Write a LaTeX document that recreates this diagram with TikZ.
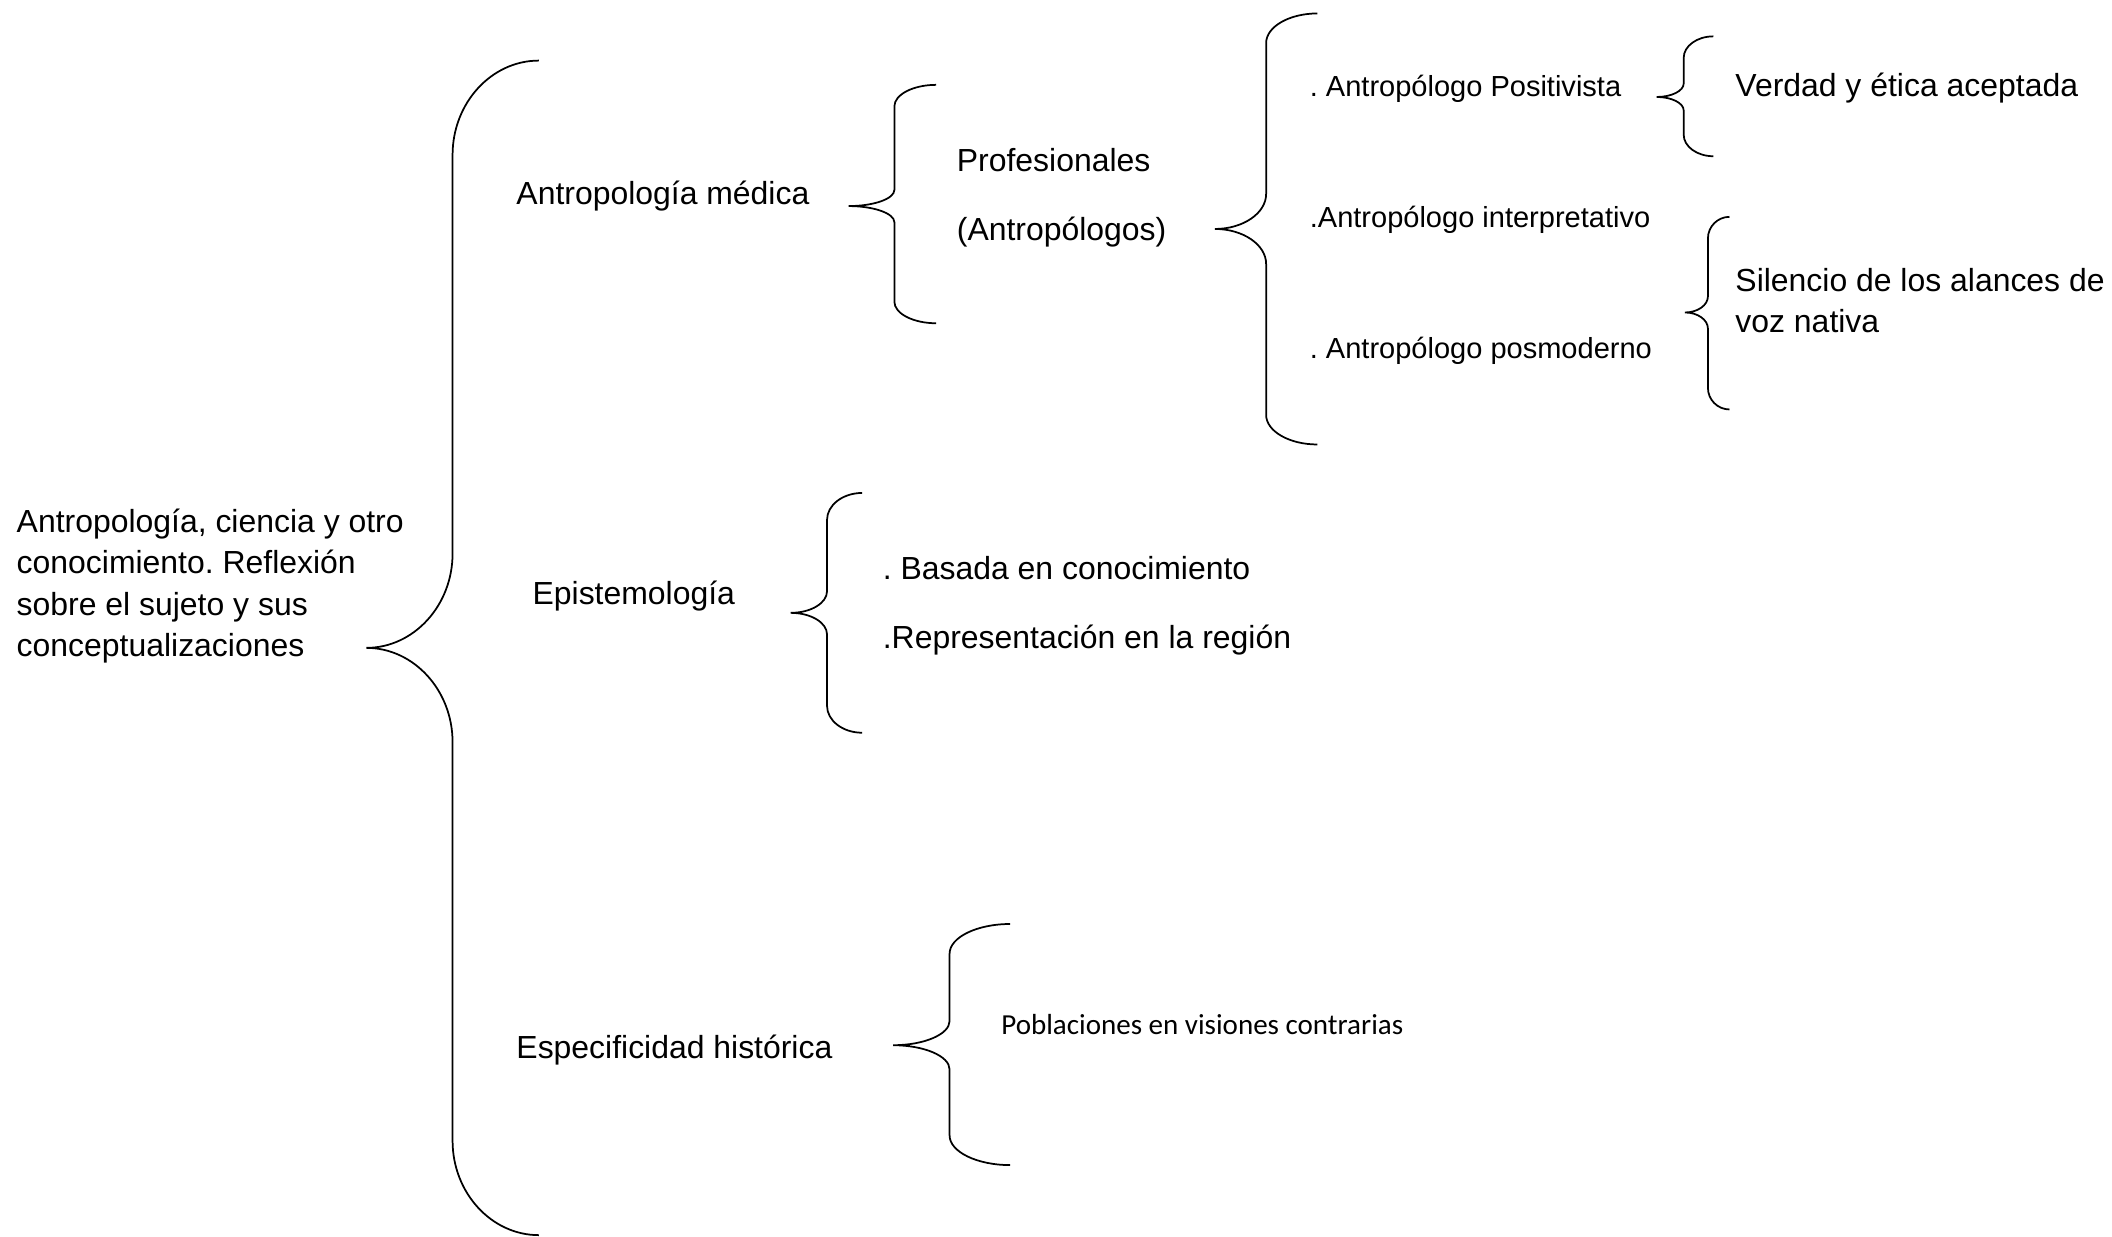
\documentclass[tikz,border=0pt]{standalone}
\usepackage{fontspec}
\setmainfont{Liberation Sans}
\newfontfamily\calibri{Carlito}
\frenchspacing
\usetikzlibrary{positioning}
\tikzstyle{item} = [anchor=west, inner sep=0pt, text height=7.9pt, text depth=0pt,
    font=\fontsize{11}{14.2}\selectfont]
\tikzstyle{sub} = [item, text height=7.2pt, font=\fontsize{10}{12}\selectfont]
\tikzstyle{note} = [item, text height=6.4pt, font=\calibri\fontsize{10}{12}\selectfont]
\tikzstyle{para} = [anchor=base west, inner sep=0pt, align=left,
    font=\fontsize{11}{14.3}\selectfont]
\tikzstyle{bracket} = [draw, line width=0.6pt]
% curly brace: tip x, tip y, spine x, end x, top y, bottom y, end radius, tip radius
\newcommand{\wbrace}[8]{%
  \draw[bracket] (#4,#5) .. controls ({#3+0.45*(#4-#3)},#5) and (#3,{#5+0.45*#7}) .. (#3,{#5+#7})
    -- (#3,{#2-#8}) .. controls (#3,{#2-0.45*#8}) and ({#1+0.55*(#3-#1)},#2) .. (#1,#2)
    .. controls ({#1+0.55*(#3-#1)},#2) and (#3,{#2+0.45*#8}) .. (#3,{#2+#8})
    -- (#3,{#6-#7}) .. controls (#3,{#6-0.45*#7}) and ({#3+0.45*(#4-#3)},#6) .. (#4,#6);}

\begin{document}
\begin{tikzpicture}[x=0.464pt, y=-0.464pt]
  \useasboundingbox (0,0) rectangle (1568,918);

  % base of a block is its last line
  \node [para] (root) at (12,487.5) {Antropología, ciencia y otro\\conocimiento. Reflexión\\sobre el sujeto y sus\\conceptualizaciones};

  \node [item] (medica) at (383,143.5) {Antropología médica};
  \node [item] (episte) at (395,440.5) {Epistemología};
  \node [item] (especif) at (383,777.5) {Especificidad histórica};

  \node [item] (prof) at (710,119) {Profesionales};
  \node [item, below=23.7pt of prof.west, anchor=west] (antr) {(Antropólogos)};

  \node [sub] (posit) at (972,64.2) {. Antropólogo Positivista};
  \node [sub, below=45pt of posit.west, anchor=west] (interp) {.Antropólogo interpretativo};
  \node [sub, below=45pt of interp.west, anchor=west] (posmod) {. Antropólogo posmoderno};

  \node [item] (verdad) at (1288,63.5) {Verdad y ética aceptada};
  \node [para] (silencio) at (1288,247) {Silencio de los alances de\\voz nativa};

  \node [item] (basada) at (655,422) {. Basada en conocimiento};
  \node [item, below=23.7pt of basada.west, anchor=west] (repres) {.Representación en la región};

  \node [note] (poblac) at (743,761) {Poblaciones en visiones contrarias};

  % braces
  \wbrace{272}{481}{336}{400}{45}{917}{70}{70}
  \wbrace{630}{153}{664}{695}{63}{240}{16}{12}
  \wbrace{902}{170}{940}{978}{10}{330}{22}{26}
  \wbrace{1230}{72}{1250}{1272}{27}{116}{16}{10}
  \wbrace{1251}{232}{1268}{1284}{161}{304}{16}{12}
  \wbrace{587}{455}{614}{640}{366}{544}{20}{16}
  \wbrace{663}{776}{705}{750}{686}{865}{22}{18}

\end{tikzpicture}
\end{document}
